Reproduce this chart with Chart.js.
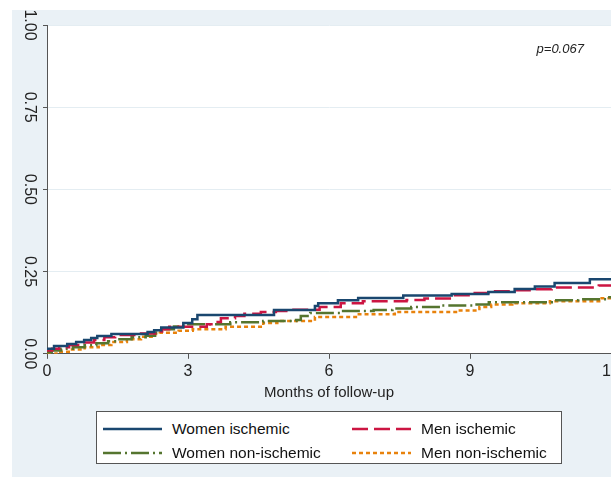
<!DOCTYPE html>
<html lang="en">
<head>
<meta charset="UTF-8">
<title>Cumulative incidence by sex and etiology</title>
<script src="https://cdn.jsdelivr.net/npm/chart.js"></script>
<style>
  body { margin: 0; background: #fff; }
  #wrap { position: relative; width: 611px; height: 477px; }
  #legend {
    position: absolute; left: 96px; top: 411px; width: 466px; height: 53px;
    box-sizing: border-box; border: 1px solid #555; background: #fff;
    display: grid; grid-template-columns: 249px 1fr; grid-auto-rows: 24px;
    padding: 5px 0 0 6px;
    font: 15.5px "Liberation Sans", Arial, sans-serif; color: #111;
  }
  .item { display: flex; align-items: center; white-space: nowrap; }
  .item svg { margin-right: 10px; }
</style>
</head>
<body>
<div id="wrap">
  <canvas id="kmChart" width="611" height="477"></canvas>
  <div id="legend"></div>
</div>

<script>
// step points: [month, cumulative incidence]
const womenIschemic = [[0,0.015],[0.15,0.024],[0.43,0.03],[0.62,0.036],[0.79,0.042],[0.94,0.048],[1.07,0.054],[1.37,0.06],[2.14,0.066],[2.28,0.072],[2.43,0.08],[2.9,0.094],[3.09,0.105],[3.2,0.118],[4.83,0.133],[5.7,0.145],[5.77,0.154],[6.19,0.163],[6.62,0.17],[7.58,0.177],[8.61,0.182],[9.39,0.188],[9.95,0.197],[10.38,0.205],[10.8,0.215],[11.55,0.227],[12,0.227]];
const menIschemic = [[0,0.01],[0.11,0.015],[0.26,0.02],[0.47,0.027],[0.75,0.034],[1.0,0.042],[1.22,0.05],[1.45,0.057],[2.0,0.062],[2.3,0.068],[2.45,0.075],[2.6,0.082],[3.4,0.09],[3.55,0.097],[3.7,0.108],[4.0,0.115],[4.2,0.122],[4.55,0.127],[4.87,0.13],[5.2,0.134],[5.8,0.142],[6.25,0.154],[6.72,0.16],[7.65,0.164],[8.03,0.168],[8.6,0.178],[8.97,0.185],[9.45,0.19],[9.85,0.193],[10.3,0.196],[10.74,0.202],[11.74,0.208],[12,0.21]];
const womenNonIschemic = [[0,0.005],[0.1,0.01],[0.3,0.015],[0.55,0.02],[0.8,0.026],[1.05,0.032],[1.3,0.038],[1.5,0.044],[1.8,0.05],[2.1,0.055],[2.3,0.065],[2.42,0.075],[2.7,0.083],[2.9,0.09],[3.9,0.096],[4.6,0.1],[5.3,0.103],[5.4,0.115],[5.6,0.124],[6.3,0.13],[6.95,0.133],[7.35,0.138],[7.75,0.142],[8.4,0.147],[9.05,0.15],[9.4,0.157],[10.74,0.163],[11.3,0.166],[11.9,0.172],[12,0.172]];
const menNonIschemic = [[0,0],[0.2,0.006],[0.5,0.013],[0.8,0.02],[1.1,0.027],[1.37,0.036],[1.7,0.044],[2.0,0.052],[2.28,0.06],[2.4,0.064],[2.8,0.07],[3.1,0.075],[3.8,0.082],[4.6,0.094],[4.9,0.1],[5.7,0.112],[6.6,0.12],[7.4,0.127],[8.75,0.132],[9.2,0.142],[9.45,0.15],[9.9,0.154],[10.7,0.16],[11.8,0.169],[12,0.175]];

const seriesNames = ['Women ischemic', 'Men ischemic', 'Women non-ischemic', 'Men non-ischemic'];
const xTicks = [0, 3, 6, 9, 12];
const yTicks = [0, 0.25, 0.5, 0.75, 1];
const xTitle = 'Months of follow-up';
const pText = 'p=0.067';
const pAt = [10.92, 0.925];

const FONT = '"Liberation Sans", Arial, sans-serif';
const toXY = arr => arr.map(p => ({ x: p[0], y: p[1] }));

function makeSet(label, pts, color, dash) {
    return {
        label: label,
        data: toXY(pts),
        borderColor: color,
        backgroundColor: color,
        borderWidth: 2.5,
        borderDash: dash,
        stepped: true,
        pointRadius: 0,
        fill: false
    };
}

// backgrounds: outer light blue region and white plot region
const bgPlugin = {
    id: 'bg',
    beforeDraw(chart) {
        const ctx = chart.ctx, a = chart.chartArea;
        ctx.save();
        ctx.fillStyle = '#fff';
        ctx.fillRect(0, 0, chart.width, chart.height);
        ctx.fillStyle = '#eaf1f6';
        ctx.fillRect(12, 10, chart.width - 12, chart.height - 10);
        ctx.fillStyle = '#fff';
        ctx.fillRect(a.left, a.top, chart.width - a.left, a.bottom - a.top);
        ctx.restore();
    }
};

const pPlugin = {
    id: 'pvalue',
    afterDatasetsDraw(chart) {
        const ctx = chart.ctx;
        ctx.save();
        ctx.font = 'italic 13px ' + FONT;
        ctx.fillStyle = '#222';
        ctx.textAlign = 'center';
        ctx.textBaseline = 'middle';
        ctx.fillText(pText, chart.scales.x.getPixelForValue(pAt[0]), chart.scales.y.getPixelForValue(pAt[1]));
        ctx.restore();
    }
};

const htmlLegend = {
    id: 'htmlLegend',
    afterUpdate(chart) {
        const box = document.getElementById('legend');
        box.innerHTML = '';
        chart.data.datasets.forEach(ds => {
            const item = document.createElement('div');
            item.className = 'item';
            const dash = (ds.borderDash || []).join(',');
            item.innerHTML = '<svg width="59" height="10"><line x1="0" y1="5" x2="59" y2="5" stroke="' + ds.borderColor +
                '" stroke-width="2.5"' + (dash ? ' stroke-dasharray="' + dash + '"' : '') + '/></svg>';
            const span = document.createElement('span');
            span.textContent = ds.label;
            item.appendChild(span);
            box.appendChild(item);
        });
    }
};

new Chart(document.getElementById('kmChart'), {
    type: 'line',
    data: {
        datasets: [
            makeSet(seriesNames[0], womenIschemic, '#1a476f', []),
            makeSet(seriesNames[1], menIschemic, '#cc1542', [16, 6]),
            makeSet(seriesNames[2], womenNonIschemic, '#55752f', [18, 4, 2, 4]),
            makeSet(seriesNames[3], menNonIschemic, '#e8820c', [4, 3])
        ]
    },
    options: {
        responsive: false,
        animation: false,
        layout: { padding: { left: 0, top: 25, right: 0, bottom: 75 } },
        plugins: {
            legend: { display: false },
            tooltip: { enabled: false }
        },
        scales: {
            x: {
                type: 'linear',
                min: 0,
                max: 12,
                afterBuildTicks: s => { s.ticks = xTicks.map(v => ({ value: v })); },
                afterFit: s => { s.paddingRight = 0; },
                grid: { drawOnChartArea: false, tickLength: 5, tickColor: '#555' },
                border: { color: '#555', width: 1 },
                ticks: { padding: 3, color: '#222', font: { family: FONT, size: 16 }, maxRotation: 0 },
                title: { display: true, text: xTitle, color: '#222', padding: { top: 0, bottom: 0 }, font: { family: FONT, size: 15 } }
            },
            y: {
                min: 0,
                max: 1,
                afterBuildTicks: s => { s.ticks = yTicks.map(v => ({ value: v })); },
                afterFit: s => { s.width = 47; },
                grid: { color: '#e4edf2', lineWidth: 1, tickLength: 4, tickColor: '#555' },
                border: { color: '#555', width: 1 },
                ticks: {
                    minRotation: -90,
                    maxRotation: -90,
                    crossAlign: 'center',
                    padding: -2,
                    color: '#222',
                    font: { family: FONT, size: 16 },
                    callback: v => v.toFixed(2)
                }
            }
        }
    },
    plugins: [bgPlugin, pPlugin, htmlLegend]
});
</script>
</body>
</html>
